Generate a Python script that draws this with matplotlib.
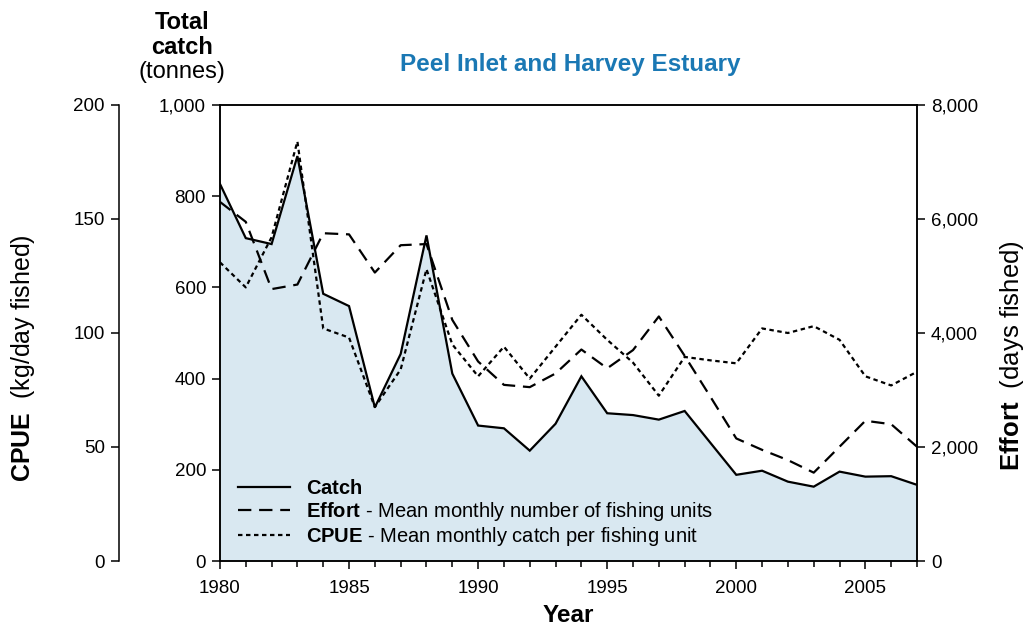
import matplotlib.pyplot as plt
from matplotlib.lines import Line2D
from matplotlib.ticker import FuncFormatter, MultipleLocator

plt.rcParams['font.family'] = ['Liberation Sans', 'DejaVu Sans']
plt.rcParams['mathtext.fontset'] = 'custom'
plt.rcParams['mathtext.rm'] = 'Liberation Sans'
plt.rcParams['mathtext.bf'] = 'Liberation Sans:bold'

# Data
years = list(range(1980, 2008))
catch = [827, 708, 695, 888, 586, 559, 337, 454, 714, 411,
         297, 291, 242, 301, 405, 324, 320, 310, 329, 259,
         189, 198, 174, 163, 196, 185, 186, 167]
effort = [6300, 5950, 4770, 4850, 5750, 5730, 5060, 5540, 5560, 4230,
          3500, 3090, 3050, 3290, 3710, 3380, 3700, 4290, 3600, 2880,
          2150, 1950, 1770, 1550, 2005, 2460, 2400, 2005]
cpue = [131, 120, 142, 184, 102, 98, 67.5, 84, 128, 95,
        81, 94, 80, 94, 108, 97, 87, 72.5, 89.5, 88,
        86.7, 102, 100, 103, 97, 81, 77, 83]

fig = plt.figure(figsize=(10.24, 6.29), dpi=100)
ax = fig.add_axes([0.2148, 0.1081, 0.6807, 0.7250])

lw_spine = 1.1
tick_fs = 13.5
comma = FuncFormatter(lambda v, p: f"{v:,.0f}")

# Catch (area + solid line)
ax.fill_between(years, catch, 0, color='#d9e8f1', lw=0)
ax.plot(years, catch, color='black', lw=1.6, solid_joinstyle='miter')
ax.set_xlim(1980, 2007)
ax.set_ylim(0, 1000)
ax.yaxis.set_major_locator(MultipleLocator(200))
ax.yaxis.set_major_formatter(comma)
ax.xaxis.set_major_locator(MultipleLocator(5))
ax.xaxis.set_minor_locator(MultipleLocator(1))
ax.tick_params(axis='both', which='major', labelsize=tick_fs, length=6, width=lw_spine,
               direction='out', pad=4)
ax.tick_params(axis='x', which='major', pad=8)
ax.tick_params(axis='x', which='minor', length=4, width=lw_spine)
for s in ax.spines.values():
    s.set_linewidth(lw_spine)

# Effort on right axis
ax_eff = ax.twinx()
ax_eff.plot(years, effort, color='black', lw=1.6, dashes=(6, 3.5))
ax_eff.set_ylim(0, 8000)
ax_eff.yaxis.set_major_locator(MultipleLocator(2000))
ax_eff.yaxis.set_major_formatter(comma)
ax_eff.tick_params(axis='y', labelsize=tick_fs, length=6, width=lw_spine, pad=4)
for s in ax_eff.spines.values():
    s.set_linewidth(lw_spine)

# CPUE on outer left axis
ax_cpue = ax.twinx()
ax_cpue.plot(years, cpue, color='black', lw=1.6, dashes=(2, 1.6))
ax_cpue.set_ylim(0, 200)
ax_cpue.yaxis.set_major_locator(MultipleLocator(50))
ax_cpue.spines['left'].set_position(('axes', -0.145))
ax_cpue.spines['left'].set_visible(True)
ax_cpue.spines['left'].set_linewidth(lw_spine)
for side in ['right', 'top', 'bottom']:
    ax_cpue.spines[side].set_visible(False)
ax_cpue.yaxis.set_ticks_position('left')
ax_cpue.tick_params(axis='y', labelsize=tick_fs, length=6, width=lw_spine, pad=4)

# Titles and labels
ax.set_xlabel('Year', fontsize=17.5, fontweight='bold', labelpad=5)
fig.text(0.557, 0.898, 'Peel Inlet and Harvey Estuary', ha='center', va='center',
         fontsize=17.5, fontweight='bold', color='#1a78b4')
fig.text(0.178, 0.965, 'Total', ha='center', va='center', fontsize=17, fontweight='bold')
fig.text(0.178, 0.925, 'catch', ha='center', va='center', fontsize=17, fontweight='bold')
fig.text(0.178, 0.885, '(tonnes)', ha='center', va='center', fontsize=17)
fig.text(0.022, 0.431, r'$\bf{CPUE}$  (kg/day fished)', rotation=90,
         ha='center', va='center', fontsize=18)
fig.text(0.988, 0.434, r'$\bf{Effort}$  (days fished)', rotation=90,
         ha='center', va='center', fontsize=18.5)

# Legend
handles = [
    Line2D([], [], color='black', lw=1.6),
    Line2D([], [], color='black', lw=1.6, dashes=(6, 3.5)),
    Line2D([], [], color='black', lw=1.6, dashes=(2, 1.6)),
]
labels = [
    r'$\bf{Catch}$',
    r'$\bf{Effort}$ - Mean monthly number of fishing units',
    r'$\bf{CPUE}$ - Mean monthly catch per fishing unit',
]
ax_cpue.legend(handles, labels, loc='lower left', bbox_to_anchor=(0.0, -0.011),
               frameon=False, fontsize=14.5, handlelength=2.6, handletextpad=0.75,
               labelspacing=0.1)

fig.savefig('out.png', dpi=100)
